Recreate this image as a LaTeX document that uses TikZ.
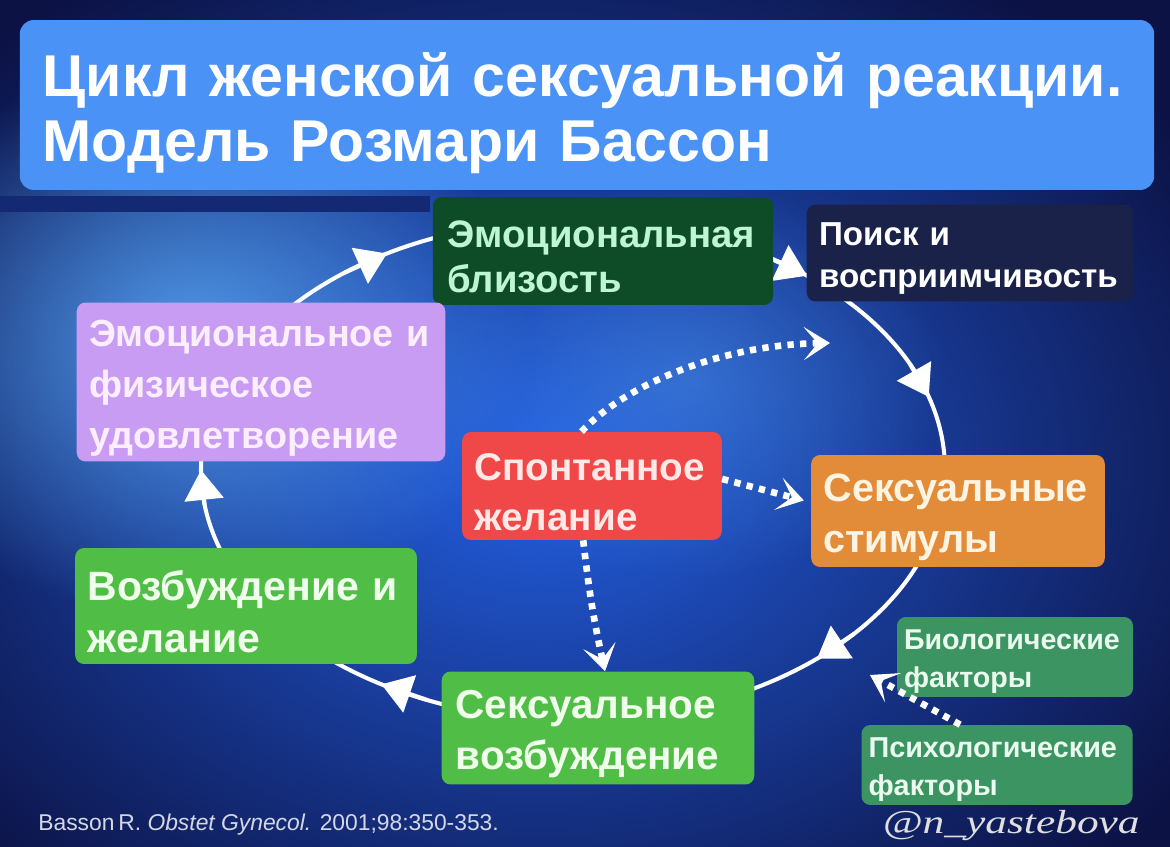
\documentclass[tikz,border=0pt]{standalone}
\usepackage{fontspec}
\setmainfont{Liberation Sans}
\newfontfamily\markfont{Liberation Serif}
\usetikzlibrary{arrows.meta,calc,fadings}
\definecolor{NightBlue}{RGB}{12,18,68}
\definecolor{GlowBlue}{RGB}{36,96,226}
\definecolor{GlowCyan}{RGB}{95,175,250}
\definecolor{TitleBlue}{RGB}{74,146,245}
\definecolor{DeepGreen}{RGB}{14,76,40}
\definecolor{MintText}{RGB}{190,245,210}
\definecolor{InkNavy}{RGB}{26,34,74}
\definecolor{Lavender}{RGB}{200,156,242}
\definecolor{LavenderText}{RGB}{252,238,255}
\definecolor{CoralRed}{RGB}{240,72,72}
\definecolor{RedText}{RGB}{255,232,230}
\definecolor{SoftOrangeBox}{RGB}{226,140,58}
\definecolor{OrangeText}{RGB}{255,243,225}
\definecolor{LeafGreen}{RGB}{80,190,70}
\definecolor{LeafText}{RGB}{240,255,235}
\definecolor{FactorGreen}{RGB}{60,148,98}
\definecolor{FactorText}{RGB}{234,250,238}
\definecolor{CiteGrey}{RGB}{212,216,230}
\tikzfading[name=glowfade,inner color=transparent!0,outer color=transparent!100]
\newcommand{\boxfont}[2]{\bfseries\fontsize{#1}{#2}\selectfont}
\tikzset{
  stage/.style={rounded corners=5pt,align=left,inner xsep=7pt,inner ysep=0pt,
    execute at begin node={\rule{0pt}{1.02em}}},
  factor/.style={stage,inner xsep=4pt,fill=FactorGreen,text=FactorText,
    minimum height=1.6cm},
  cycleline/.style={white,line width=2.3pt},
  cyclehead/.style={cycleline,-{Triangle[length=17pt,width=22pt]}},
  dotarrow/.style={white,line width=3.8pt,dash pattern=on 3.6pt off 3.6pt,
    -{Stealth[length=15pt,width=19pt,inset=8pt,line width=0.6pt]}}
}
\begin{document}
\begin{tikzpicture}[x=0.02cm,y=-0.02cm]
  \useasboundingbox (0,0) rectangle (1170,847);
  \clip (0,0) rectangle (1170,847);
  % backdrop
  \fill[NightBlue] (0,0) rectangle (1170,847);
  \fill[GlowBlue,path fading=glowfade] (540,460) ellipse [x radius=780, y radius=580];
  \fill[GlowCyan,opacity=.8,path fading=glowfade] (190,340) ellipse [x radius=340, y radius=280];
  \fill[GlowCyan,opacity=.35,path fading=glowfade] (690,380) ellipse [x radius=260, y radius=200];
  \fill[NightBlue!70!GlowBlue] (0,196) rectangle (430,212);
  % the cycle
  \begin{scope}[shift={(573,470)}]
    \draw[cycleline] (0,0) ellipse [x radius=372, y radius=250];
    \foreach \t in {180,240,309,343,49,121}
      \draw[cyclehead] ({\t-8}:372 and 250) -- (\t:372 and 250);
  \end{scope}
  % boxes
  \node[stage,rounded corners=8pt,fill=TitleBlue,text=white,inner xsep=13pt,
    text width=21.78cm,minimum height=3.4cm,font=\boxfont{33.6}{37}] (title) at (587,105)
    {Цикл женской сексуальной реакции.\\Модель Розмари Бассон};
  \node[stage,fill=DeepGreen,text=MintText,inner xsep=8pt,text width=6.24cm,
    minimum height=2.16cm,font=\boxfont{21.8}{25.5}] (close) at (603,251)
    {Эмоциональная\\близость};
  \node[stage,fill=InkNavy,text=white,text width=6.04cm,minimum height=1.94cm,
    font=\boxfont{18.9}{24.4}] (search) at (970,253) {Поиск и\\восприимчивость};
  \node[stage,fill=Lavender,text=LavenderText,text width=6.88cm,minimum height=3.18cm,
    font=\boxfont{21.5}{29}] (satisf) at (261,382) {Эмоциональное и\\физическое\\удовлетворение};
  \node[stage,fill=CoralRed,text=RedText,text width=4.7cm,minimum height=2.16cm,
    font=\boxfont{22}{29}] (spont) at (592,486) {Спонтанное\\желание};
  \node[stage,fill=SoftOrangeBox,text=OrangeText,text width=5.38cm,minimum height=2.24cm,
    font=\boxfont{22.5}{29}] (stim) at (958,511) {Сексуальные\\стимулы};
  \node[stage,fill=LeafGreen,text=LeafText,text width=6.34cm,minimum height=2.32cm,
    font=\boxfont{23.3}{29.5}] (desire) at (246,606) {Возбуждение и\\желание};
  \node[stage,fill=LeafGreen,text=LeafText,inner xsep=8pt,text width=5.69cm,
    minimum height=2.26cm,font=\boxfont{23}{29}] (arousal) at (598,728)
    {Сексуальное\\возбуждение};
  \node[factor,text width=4.44cm,font=\boxfont{16.3}{21.5}] (bio) at (1015,657)
    {Биологические\\факторы};
  \node[factor,text width=5.14cm,font=\boxfont{16.4}{21.5}] (psych) at (997,765)
    {Психологические\\факторы};
  % dotted links
  \coordinate (loopin) at (830,343);
  \coordinate (bioin) at (870,675);
  \draw[dotarrow] ([xshift=-6pt]spont.north) .. controls (625,385) and (720,345) .. (loopin);
  \draw[dotarrow] ([yshift=4pt]spont.east) -- ([xshift=-4pt,yshift=6pt]stim.west);
  \draw[dotarrow] ([xshift=-5pt]spont.south) to[bend right=3] ([xshift=4pt]arousal.north);
  \draw[dotarrow] ([xshift=-21pt]psych.north) -- (bioin);
  % footer
  \node[anchor=base west,text=CiteGrey,inner sep=0pt,font=\fontsize{13}{15}\selectfont]
    (cite) at (38,830) {Basson\,R. \textit{Obstet Gynecol.} 2001;98:350-353.};
  \node[anchor=base east,text=white!75!gray,inner sep=0pt,
    font=\markfont\itshape\fontsize{19}{22}\selectfont] (mark) at (1140,833)
    {\scalebox{1.3}[1]{@n\_yastebova}};
\end{tikzpicture}
\end{document}
